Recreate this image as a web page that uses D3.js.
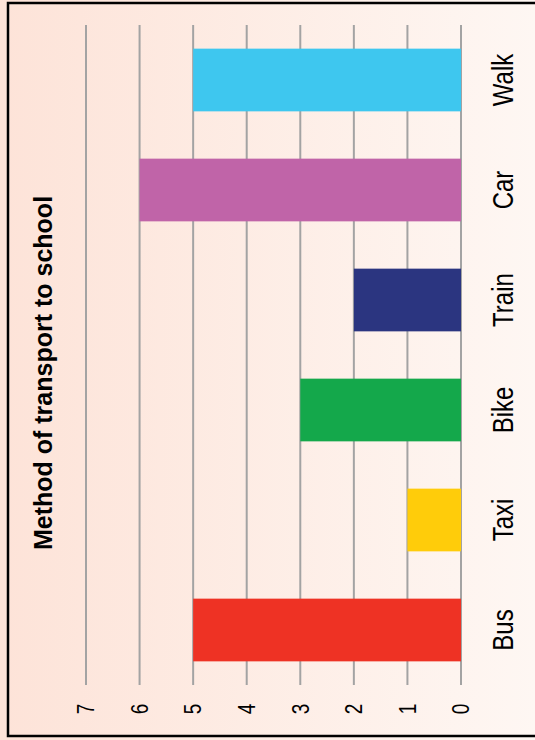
<!DOCTYPE html>
<html><head><meta charset="utf-8">
<script src="https://cdn.jsdelivr.net/npm/d3@7"></script>
<style>html,body{margin:0;padding:0;background:#fde6dc;}svg{display:block;}</style>
</head><body>
<script>
const categories = ["Walk","Car","Train","Bike","Taxi","Bus"];
const values = [5,6,2,3,1,5];
const colors = ["#3EC7EF","#C064A8","#2B3580","#14A84B","#FFCC0A","#EE3224"];
const ticks = [0,1,2,3,4,5,6,7];
const title = "Method of transport to school";

const W=535,H=740;
const svg=d3.select("body").append("svg").attr("width",W).attr("height",H);
const defs=svg.append("defs");
const g=defs.append("linearGradient").attr("id","bg").attr("x1","0").attr("x2","1").attr("y1","0").attr("y2","0");
g.append("stop").attr("offset","0").attr("stop-color","#fde3d8");
g.append("stop").attr("offset","1").attr("stop-color","#fef7f3");
svg.append("rect").attr("width",W).attr("height",H).attr("fill","url(#bg)");
svg.append("rect").attr("x",8).attr("y",3).attr("width",W+10).attr("height",733)
  .attr("fill","none").attr("stroke","#000").attr("stroke-width",2.5);

const x=d3.scaleLinear().domain([0,7]).range([461,86]);
const y=d3.scaleBand().domain(categories).range([25,685]).paddingInner(0.43).paddingOuter(0.215);

svg.append("g").selectAll("line").data(ticks).join("line")
  .attr("x1",d=>x(d)).attr("x2",d=>x(d)).attr("y1",25).attr("y2",685)
  .attr("stroke","#a3a3a3").attr("stroke-width",2);

svg.append("g").selectAll("rect").data(categories).join("rect")
  .attr("x",(d,i)=>x(values[i])).attr("width",(d,i)=>x(0)-x(values[i]))
  .attr("y",d=>y(d)).attr("height",y.bandwidth())
  .attr("fill",(d,i)=>colors[i]);

svg.append("g").selectAll("text").data(ticks).join("text")
  .attr("transform",d=>`translate(${x(d)},709) rotate(-90) scale(1,1.25)`)
  .attr("text-anchor","middle").attr("dy","0.35em")
  .attr("font-family","Liberation Sans, Arial, sans-serif").attr("font-size",19)
  .attr("fill","#000").text(d=>d);

svg.append("g").selectAll("text").data(categories).join("text")
  .attr("transform",d=>`translate(502.5,${y(d)+y.bandwidth()/2}) rotate(-90) scale(1,1.2)`)
  .attr("text-anchor","middle").attr("dy","0.35em")
  .attr("font-family","Liberation Sans, Arial, sans-serif").attr("font-size",24)
  .attr("fill","#000").text(d=>d);

svg.append("text").attr("transform","translate(43,373) rotate(-90)")
  .attr("text-anchor","middle").attr("dy","0.35em")
  .attr("font-family","Liberation Sans, Arial, sans-serif").attr("font-size",25).attr("font-weight","bold")
  .attr("fill","#000").text(title);
</script>
</body></html>
